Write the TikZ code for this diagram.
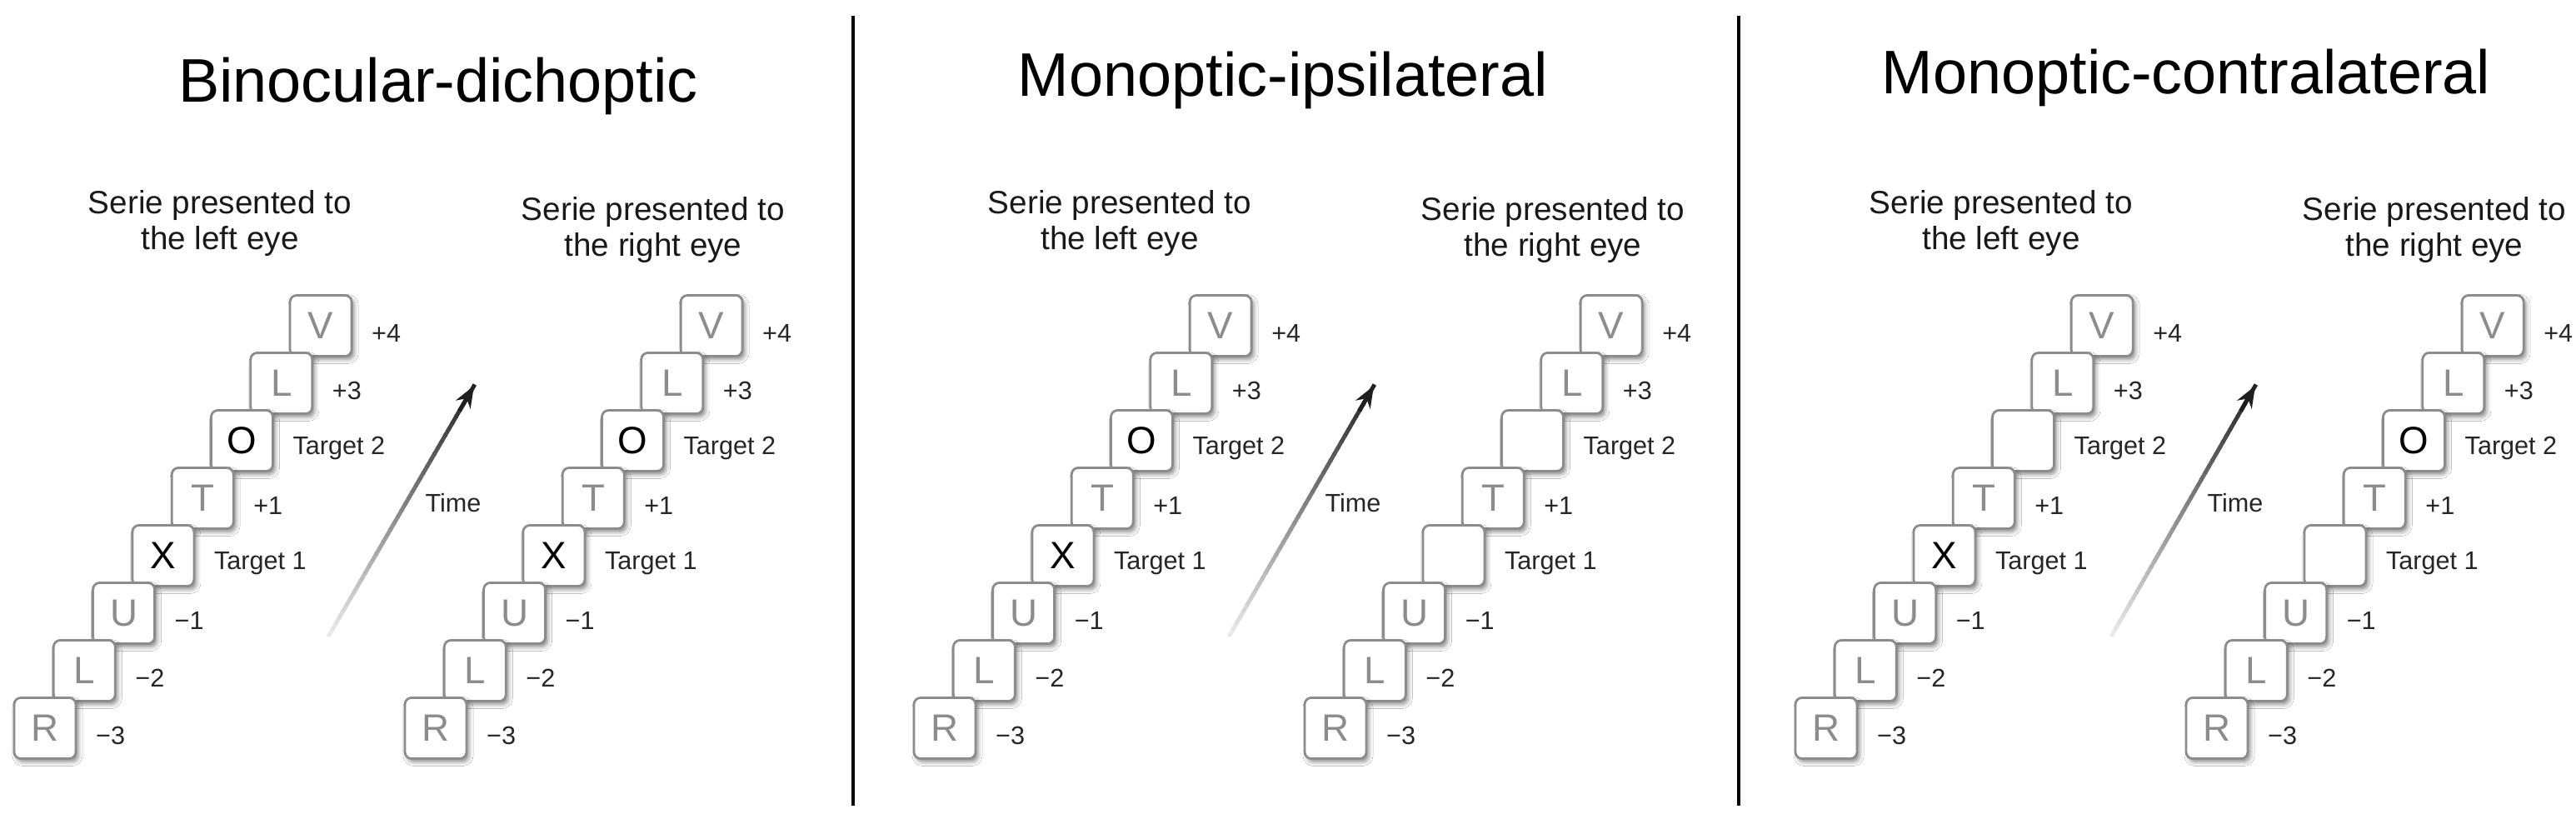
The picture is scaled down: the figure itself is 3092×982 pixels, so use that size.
\documentclass[tikz,border=0pt]{standalone}
\usepackage{fontspec}
\setmainfont{Liberation Sans}
\usetikzlibrary{calc,shadows.blur,arrows.meta}
\tikzset{
  box/.style={draw=black!45, line width=0.8pt, fill=white, rounded corners=0.08cm,
    minimum width=0.74cm, minimum height=0.73cm, inner sep=0pt,
    font=\fontsize{13}{13}\selectfont, text=black!45,
    blur shadow={shadow xshift=0.03cm, shadow yshift=-0.04cm, shadow blur radius=0.05cm, shadow opacity=45}},
  tgt/.style={text=black},
  lab/.style={anchor=west, font=\fontsize{8.7}{9}\selectfont, text=black!85, inner sep=0pt},
  head/.style={align=center, font=\fontsize{11}{12.5}\selectfont, text=black!90},
  ttl/.style={font=\fontsize{21}{21}\selectfont, text=black},
  divider/.style={line width=1.1pt, black}
}
\newcommand{\lbltext}[1]{\ifcase#1 −3\or −2\or −1\or Target 1\or +1\or Target 2\or +3\or +4\fi}
% #1 name, #2 base x, #3 list (top to bottom: i=7..0)
\newcommand{\mystack}[3]{%
  \foreach \L/\st [count=\k] in {#3} {
    \pgfmathtruncatemacro{\i}{8-\k}
    \node[box,\st] (#1b\i) at ({#2+47.3*\i},{874-69*\i}) {\L};
    \node[lab] (#1l\i) at ($(#1b\i.east)+(22,9)$) {\lbltext{\i}};
  }%
}
\newcommand{\timearrow}[3]{%
  \coordinate (#1s) at (#2,764);
  \coordinate (#1e) at (#3,463);
  \foreach \t in {0,...,39} {
    \pgfmathsetmacro{\c}{8+2*\t}
    \draw[line width=1.4pt, black!\c] ($(#1s)!\t/40!(#1e)$) -- ($(#1s)!{(\t+1.2)/40}!(#1e)$);
  }
  \draw[line width=1.4pt, black!88, -{Stealth[length=0.26cm,width=0.2cm]}] ($(#1s)!0.9!(#1e)$) -- (#1e);
}
\begin{document}
\begin{tikzpicture}[x=0.01cm,y=-0.01cm]
\useasboundingbox (0,0) rectangle (3092,982);
\fill[white] (0,0) rectangle (3092,982);
% dividers
\coordinate (d1t) at (1024,19); \coordinate (d1b) at (1024,967);
\coordinate (d2t) at (2087,19); \coordinate (d2b) at (2087,967);
\draw[divider] (d1t) -- (d1b);
\draw[divider] (d2t) -- (d2b);
% titles
\node[ttl] (t1) at (526,103) {Binocular-dichoptic};
\node[ttl] (t2) at (1540,96) {Monoptic-ipsilateral};
\node[ttl] (t3) at (2624,93) {Monoptic-contralateral};
% headers
\foreach \b/\n in {54/1,1134/2,2192/3} {
  \node[head] (hl\n) at (\b+210,268) {Serie presented to\\the left eye};
  \node[head] (hr\n) at (\b+730,276) {Serie presented to\\the right eye};
}
% stacks
\mystack{pAL}{54}{V/,L/,O/tgt,T/,X/tgt,U/,L/,R/}
\mystack{pAR}{523}{V/,L/,O/tgt,T/,X/tgt,U/,L/,R/}
\mystack{pBL}{1134}{V/,L/,O/tgt,T/,X/tgt,U/,L/,R/}
\mystack{pBR}{1603}{V/,L/,{}/,T/,{}/,U/,L/,R/}
\mystack{pCL}{2192}{V/,L/,{}/,T/,X/tgt,U/,L/,R/}
\mystack{pCR}{2661}{V/,L/,O/tgt,T/,{}/,U/,L/,R/}
% time arrows
\timearrow{a1}{394}{569}
\timearrow{a2}{1475}{1649}
\timearrow{a3}{2534}{2707}
\node[lab, anchor=center] (tm1) at (544,604) {Time};
\node[lab, anchor=center] (tm2) at (1624,604) {Time};
\node[lab, anchor=center] (tm3) at (2683,604) {Time};
\end{tikzpicture}
\end{document}
